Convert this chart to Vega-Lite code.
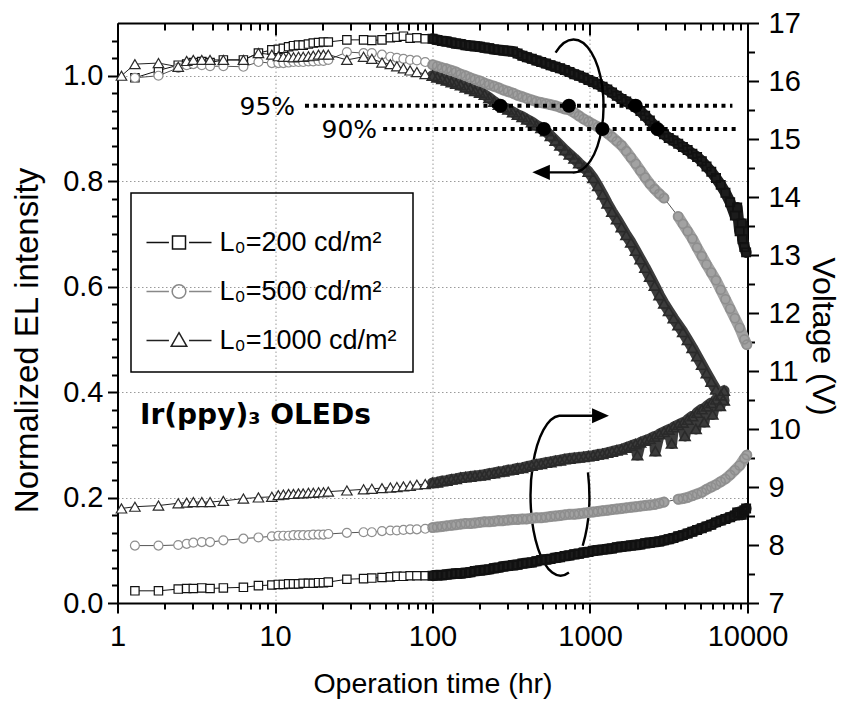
{
  "$schema": "https://vega.github.io/schema/vega-lite/v6.json",
  "width": 630,
  "height": 580,
  "autosize": "none",
  "padding": {"left": 117.5, "top": 23, "right": 96.5, "bottom": 108.5},
  "background": "white",
  "config": {
    "font": "Liberation Sans",
    "view": {"stroke": null},
    "axis": {"domainColor": "black", "domainWidth": 2, "tickColor": "black", "tickWidth": 2, "labelFont": "Liberation Sans", "labelFontSize": 29, "labelColor": "black", "titleFont": "Liberation Sans", "titleFontWeight": "normal", "titleColor": "black", "gridColor": "#9a9a9a", "gridDash": [1.5, 2.5], "gridWidth": 1},
    "legend": {"strokeWidth": 1.5}
  },
  "datasets": {
    "d": [
      {"s":200,"t":1.29,"i":0.996,"u":7.21},{"s":200,"t":1.82,"i":1.01,"u":7.21},{"s":200,"t":2.43,"i":1.02,"u":7.24},{"s":200,"t":2.75,"i":1.022,"u":7.25},{"s":200,"t":3.03,"i":1.025,"u":7.25},{"s":200,"t":3.43,"i":1.027,"u":7.26},{"s":200,"t":3.87,"i":1.025,"u":7.25},{"s":200,"t":4.7,"i":1.03,"u":7.26},{"s":200,"t":6.3,"i":1.03,"u":7.27},{"s":200,"t":7.85,"i":1.043,"u":7.3},{"s":200,"t":9.55,"i":1.049,"u":7.31},{"s":200,"t":10.5,"i":1.05,"u":7.32},{"s":200,"t":11.3,"i":1.052,"u":7.32},{"s":200,"t":12.2,"i":1.055,"u":7.33},{"s":200,"t":13.1,"i":1.057,"u":7.33},{"s":200,"t":14.1,"i":1.058,"u":7.33},{"s":200,"t":15.1,"i":1.058,"u":7.34},{"s":200,"t":16.3,"i":1.06,"u":7.34},{"s":200,"t":17.5,"i":1.062,"u":7.34},{"s":200,"t":18.9,"i":1.063,"u":7.35},{"s":200,"t":20.3,"i":1.064,"u":7.35},{"s":200,"t":21.8,"i":1.064,"u":7.36},{"s":200,"t":28.6,"i":1.068,"u":7.41},{"s":200,"t":36.5,"i":1.068,"u":7.42},{"s":200,"t":41.2,"i":1.067,"u":7.43},{"s":200,"t":47.8,"i":1.068,"u":7.44},{"s":200,"t":54,"i":1.072,"u":7.45},{"s":200,"t":59.4,"i":1.073,"u":7.46},{"s":200,"t":65.4,"i":1.075,"u":7.46},{"s":200,"t":72.1,"i":1.071,"u":7.47},{"s":200,"t":79.6,"i":1.072,"u":7.47},{"s":200,"t":89.9,"i":1.07,"u":7.47},
      {"s":200,"t":100,"i":1.07,"u":7.47},{"s":200,"t":107,"i":1.068,"u":7.48},{"s":200,"t":115,"i":1.066,"u":7.48},{"s":200,"t":123,"i":1.065,"u":7.49},{"s":200,"t":132,"i":1.063,"u":7.5},{"s":200,"t":141,"i":1.061,"u":7.51},{"s":200,"t":151,"i":1.06,"u":7.51},{"s":200,"t":162,"i":1.058,"u":7.52},{"s":200,"t":174,"i":1.057,"u":7.53},{"s":200,"t":186,"i":1.056,"u":7.55},{"s":200,"t":200,"i":1.055,"u":7.56},{"s":200,"t":214,"i":1.053,"u":7.57},{"s":200,"t":229,"i":1.052,"u":7.58},{"s":200,"t":246,"i":1.05,"u":7.6},{"s":200,"t":263,"i":1.049,"u":7.61},{"s":200,"t":282,"i":1.048,"u":7.63},{"s":200,"t":302,"i":1.047,"u":7.64},{"s":200,"t":324,"i":1.046,"u":7.65},{"s":200,"t":347,"i":1.042,"u":7.66},{"s":200,"t":372,"i":1.038,"u":7.68},{"s":200,"t":398,"i":1.035,"u":7.69},{"s":200,"t":427,"i":1.032,"u":7.7},{"s":200,"t":457,"i":1.029,"u":7.72},{"s":200,"t":490,"i":1.026,"u":7.74},{"s":200,"t":525,"i":1.023,"u":7.75},{"s":200,"t":562,"i":1.02,"u":7.76},{"s":200,"t":603,"i":1.017,"u":7.78},{"s":200,"t":646,"i":1.014,"u":7.79},{"s":200,"t":692,"i":1.011,"u":7.81},{"s":200,"t":741,"i":1.007,"u":7.82},{"s":200,"t":794,"i":1.003,"u":7.84},{"s":200,"t":851,"i":1.0,"u":7.85},{"s":200,"t":912,"i":0.996,"u":7.87},{"s":200,"t":977,"i":0.992,"u":7.88},{"s":200,"t":1047,"i":0.988,"u":7.9},{"s":200,"t":1122,"i":0.984,"u":7.91},{"s":200,"t":1202,"i":0.979,"u":7.92},{"s":200,"t":1288,"i":0.974,"u":7.93},{"s":200,"t":1380,"i":0.968,"u":7.94},{"s":200,"t":1479,"i":0.962,"u":7.96},{"s":200,"t":1585,"i":0.956,"u":7.97},{"s":200,"t":1698,"i":0.951,"u":7.98},{"s":200,"t":1820,"i":0.946,"u":7.99},{"s":200,"t":1950,"i":0.941,"u":8.0},{"s":200,"t":2089,"i":0.933,"u":8.01},{"s":200,"t":2239,"i":0.924,"u":8.03},{"s":200,"t":2399,"i":0.915,"u":8.04},{"s":200,"t":2570,"i":0.905,"u":8.05},{"s":200,"t":2754,"i":0.896,"u":8.06},{"s":200,"t":2951,"i":0.889,"u":8.08},{"s":200,"t":3162,"i":0.882,"u":8.1},{"s":200,"t":3388,"i":0.877,"u":8.12},{"s":200,"t":3631,"i":0.871,"u":8.15},{"s":200,"t":3890,"i":0.865,"u":8.17},{"s":200,"t":4169,"i":0.859,"u":8.2},{"s":200,"t":4467,"i":0.852,"u":8.23},{"s":200,"t":4786,"i":0.846,"u":8.26},{"s":200,"t":5129,"i":0.838,"u":8.29},{"s":200,"t":5495,"i":0.828,"u":8.32},{"s":200,"t":5888,"i":0.818,"u":8.35},{"s":200,"t":6310,"i":0.806,"u":8.39},{"s":200,"t":6761,"i":0.793,"u":8.42},{"s":200,"t":7244,"i":0.778,"u":8.45},{"s":200,"t":7762,"i":0.76,"u":8.48},{"s":200,"t":8318,"i":0.735,"u":8.51},{"s":200,"t":8913,"i":0.705,"u":8.55},{"s":200,"t":9550,"i":0.675,"u":8.6},
      {"s":200,"t":8600,"i":0.75,"u":8.56},{"s":200,"t":9200,"i":0.72,"u":8.52},{"s":200,"t":9300,"i":0.69,"u":8.58},{"s":200,"t":9800,"i":0.665,"u":8.63},
      {"s":500,"t":1.29,"i":0.996,"u":7.99},{"s":500,"t":1.82,"i":1.0,"u":7.99},{"s":500,"t":2.43,"i":1.015,"u":8.0},{"s":500,"t":2.75,"i":1.02,"u":8.02},{"s":500,"t":3.03,"i":1.022,"u":8.04},{"s":500,"t":3.43,"i":1.02,"u":8.05},{"s":500,"t":3.87,"i":1.018,"u":8.05},{"s":500,"t":4.7,"i":1.018,"u":8.08},{"s":500,"t":6.3,"i":1.017,"u":8.11},{"s":500,"t":7.85,"i":1.026,"u":8.13},{"s":500,"t":9.55,"i":1.024,"u":8.15},{"s":500,"t":10.5,"i":1.024,"u":8.16},{"s":500,"t":11.3,"i":1.024,"u":8.16},{"s":500,"t":12.2,"i":1.025,"u":8.16},{"s":500,"t":13.1,"i":1.026,"u":8.17},{"s":500,"t":14.1,"i":1.026,"u":8.17},{"s":500,"t":15.1,"i":1.026,"u":8.17},{"s":500,"t":16.3,"i":1.027,"u":8.17},{"s":500,"t":17.5,"i":1.027,"u":8.18},{"s":500,"t":18.9,"i":1.028,"u":8.18},{"s":500,"t":20.3,"i":1.028,"u":8.18},{"s":500,"t":21.8,"i":1.03,"u":8.19},{"s":500,"t":28.6,"i":1.045,"u":8.21},{"s":500,"t":36.5,"i":1.043,"u":8.22},{"s":500,"t":41.2,"i":1.043,"u":8.22},{"s":500,"t":47.8,"i":1.04,"u":8.24},{"s":500,"t":54,"i":1.036,"u":8.25},{"s":500,"t":59.4,"i":1.034,"u":8.25},{"s":500,"t":65.4,"i":1.032,"u":8.26},{"s":500,"t":72.1,"i":1.03,"u":8.27},{"s":500,"t":79.6,"i":1.029,"u":8.27},{"s":500,"t":89.9,"i":1.026,"u":8.28},
      {"s":500,"t":100,"i":1.021,"u":8.3},{"s":500,"t":107,"i":1.018,"u":8.31},{"s":500,"t":115,"i":1.015,"u":8.32},{"s":500,"t":123,"i":1.013,"u":8.33},{"s":500,"t":132,"i":1.01,"u":8.34},{"s":500,"t":141,"i":1.007,"u":8.35},{"s":500,"t":151,"i":1.003,"u":8.36},{"s":500,"t":162,"i":1.0,"u":8.37},{"s":500,"t":174,"i":0.996,"u":8.37},{"s":500,"t":186,"i":0.993,"u":8.38},{"s":500,"t":200,"i":0.99,"u":8.39},{"s":500,"t":214,"i":0.986,"u":8.4},{"s":500,"t":229,"i":0.983,"u":8.4},{"s":500,"t":246,"i":0.98,"u":8.41},{"s":500,"t":263,"i":0.977,"u":8.42},{"s":500,"t":282,"i":0.973,"u":8.42},{"s":500,"t":302,"i":0.97,"u":8.43},{"s":500,"t":324,"i":0.967,"u":8.44},{"s":500,"t":347,"i":0.963,"u":8.44},{"s":500,"t":372,"i":0.96,"u":8.45},{"s":500,"t":398,"i":0.957,"u":8.45},{"s":500,"t":427,"i":0.954,"u":8.46},{"s":500,"t":457,"i":0.951,"u":8.47},{"s":500,"t":490,"i":0.949,"u":8.47},{"s":500,"t":525,"i":0.947,"u":8.48},{"s":500,"t":562,"i":0.945,"u":8.49},{"s":500,"t":603,"i":0.943,"u":8.5},{"s":500,"t":646,"i":0.94,"u":8.51},{"s":500,"t":692,"i":0.937,"u":8.52},{"s":500,"t":741,"i":0.935,"u":8.53},{"s":500,"t":794,"i":0.93,"u":8.53},{"s":500,"t":851,"i":0.924,"u":8.54},{"s":500,"t":912,"i":0.918,"u":8.55},{"s":500,"t":977,"i":0.913,"u":8.56},{"s":500,"t":1047,"i":0.908,"u":8.57},{"s":500,"t":1122,"i":0.903,"u":8.58},{"s":500,"t":1202,"i":0.898,"u":8.59},{"s":500,"t":1288,"i":0.891,"u":8.6},{"s":500,"t":1380,"i":0.884,"u":8.61},{"s":500,"t":1479,"i":0.876,"u":8.62},{"s":500,"t":1585,"i":0.868,"u":8.63},{"s":500,"t":1698,"i":0.857,"u":8.64},{"s":500,"t":1820,"i":0.845,"u":8.65},{"s":500,"t":1950,"i":0.833,"u":8.66},{"s":500,"t":2089,"i":0.82,"u":8.67},{"s":500,"t":2239,"i":0.807,"u":8.68},{"s":500,"t":2399,"i":0.795,"u":8.69},{"s":500,"t":2570,"i":0.785,"u":8.7},{"s":500,"t":2754,"i":0.776,"u":8.72},{"s":500,"t":2951,"i":0.768,"u":8.74},{"s":500,"t":3300,"i":null,"u":null},{"s":500,"t":3631,"i":0.733,"u":8.79},{"s":500,"t":3890,"i":0.719,"u":8.8},{"s":500,"t":4169,"i":0.705,"u":8.82},{"s":500,"t":4467,"i":0.691,"u":8.85},{"s":500,"t":4786,"i":0.674,"u":8.88},{"s":500,"t":5129,"i":0.658,"u":8.91},{"s":500,"t":5495,"i":0.642,"u":8.96},{"s":500,"t":5888,"i":0.627,"u":9.0},{"s":500,"t":6310,"i":0.612,"u":9.04},{"s":500,"t":6761,"i":0.594,"u":9.09},{"s":500,"t":7244,"i":0.576,"u":9.14},{"s":500,"t":7762,"i":0.558,"u":9.21},{"s":500,"t":8318,"i":0.54,"u":9.29},{"s":500,"t":8913,"i":0.522,"u":9.37},{"s":500,"t":9550,"i":0.5,"u":9.49},{"s":500,"t":9900,"i":0.49,"u":9.55},
      {"s":1000,"t":1.06,"i":1.0,"u":8.63},{"s":1000,"t":1.29,"i":1.022,"u":8.66},{"s":1000,"t":1.82,"i":1.024,"u":8.68},{"s":1000,"t":2.43,"i":1.017,"u":8.72},{"s":1000,"t":2.75,"i":1.028,"u":8.73},{"s":1000,"t":3.03,"i":1.03,"u":8.74},{"s":1000,"t":3.43,"i":1.03,"u":8.74},{"s":1000,"t":3.87,"i":1.03,"u":8.74},{"s":1000,"t":4.7,"i":1.03,"u":8.76},{"s":1000,"t":6.3,"i":1.03,"u":8.8},{"s":1000,"t":7.85,"i":1.043,"u":8.82},{"s":1000,"t":9.55,"i":1.04,"u":8.83},{"s":1000,"t":10.5,"i":1.037,"u":8.86},{"s":1000,"t":11.3,"i":1.036,"u":8.87},{"s":1000,"t":12.2,"i":1.036,"u":8.88},{"s":1000,"t":13.1,"i":1.035,"u":8.88},{"s":1000,"t":14.1,"i":1.036,"u":8.89},{"s":1000,"t":15.1,"i":1.036,"u":8.89},{"s":1000,"t":16.3,"i":1.037,"u":8.9},{"s":1000,"t":17.5,"i":1.038,"u":8.9},{"s":1000,"t":18.9,"i":1.04,"u":8.91},{"s":1000,"t":20.3,"i":1.04,"u":8.91},{"s":1000,"t":21.8,"i":1.04,"u":8.92},{"s":1000,"t":28.6,"i":1.03,"u":8.94},{"s":1000,"t":36.5,"i":1.036,"u":8.96},{"s":1000,"t":41.2,"i":1.032,"u":8.97},{"s":1000,"t":47.8,"i":1.025,"u":8.98},{"s":1000,"t":54,"i":1.022,"u":8.99},{"s":1000,"t":59.4,"i":1.018,"u":9.0},{"s":1000,"t":65.4,"i":1.014,"u":9.01},{"s":1000,"t":72.1,"i":1.01,"u":9.02},{"s":1000,"t":79.6,"i":1.007,"u":9.04},{"s":1000,"t":89.9,"i":1.003,"u":9.05},
      {"s":1000,"t":100,"i":1.0,"u":9.07},{"s":1000,"t":107,"i":0.997,"u":9.08},{"s":1000,"t":115,"i":0.994,"u":9.1},{"s":1000,"t":123,"i":0.991,"u":9.11},{"s":1000,"t":132,"i":0.988,"u":9.13},{"s":1000,"t":141,"i":0.985,"u":9.14},{"s":1000,"t":151,"i":0.982,"u":9.16},{"s":1000,"t":162,"i":0.978,"u":9.17},{"s":1000,"t":174,"i":0.975,"u":9.18},{"s":1000,"t":186,"i":0.971,"u":9.19},{"s":1000,"t":200,"i":0.968,"u":9.2},{"s":1000,"t":214,"i":0.964,"u":9.21},{"s":1000,"t":229,"i":0.958,"u":9.23},{"s":1000,"t":246,"i":0.951,"u":9.24},{"s":1000,"t":263,"i":0.945,"u":9.26},{"s":1000,"t":282,"i":0.94,"u":9.27},{"s":1000,"t":302,"i":0.936,"u":9.29},{"s":1000,"t":324,"i":0.931,"u":9.3},{"s":1000,"t":347,"i":0.926,"u":9.32},{"s":1000,"t":372,"i":0.922,"u":9.33},{"s":1000,"t":398,"i":0.917,"u":9.35},{"s":1000,"t":427,"i":0.912,"u":9.37},{"s":1000,"t":457,"i":0.906,"u":9.39},{"s":1000,"t":490,"i":0.901,"u":9.4},{"s":1000,"t":525,"i":0.895,"u":9.42},{"s":1000,"t":562,"i":0.886,"u":9.43},{"s":1000,"t":603,"i":0.877,"u":9.45},{"s":1000,"t":646,"i":0.868,"u":9.46},{"s":1000,"t":692,"i":0.859,"u":9.48},{"s":1000,"t":741,"i":0.851,"u":9.49},{"s":1000,"t":794,"i":0.843,"u":9.5},{"s":1000,"t":851,"i":0.834,"u":9.51},{"s":1000,"t":912,"i":0.826,"u":9.52},{"s":1000,"t":977,"i":0.818,"u":9.53},{"s":1000,"t":1047,"i":0.806,"u":9.54},{"s":1000,"t":1122,"i":0.791,"u":9.56},{"s":1000,"t":1202,"i":0.775,"u":9.57},{"s":1000,"t":1288,"i":0.758,"u":9.59},{"s":1000,"t":1380,"i":0.742,"u":9.61},{"s":1000,"t":1479,"i":0.728,"u":9.63},{"s":1000,"t":1585,"i":0.713,"u":9.65},{"s":1000,"t":1698,"i":0.698,"u":9.68},{"s":1000,"t":1820,"i":0.684,"u":9.71},{"s":1000,"t":1950,"i":0.668,"u":9.74},{"s":1000,"t":2089,"i":0.652,"u":9.77},{"s":1000,"t":2239,"i":0.636,"u":9.8},{"s":1000,"t":2399,"i":0.619,"u":9.83},{"s":1000,"t":2570,"i":0.602,"u":9.87},{"s":1000,"t":2754,"i":0.584,"u":9.91},{"s":1000,"t":2951,"i":0.568,"u":9.95},{"s":1000,"t":3162,"i":0.554,"u":9.99},{"s":1000,"t":3388,"i":0.54,"u":10.03},{"s":1000,"t":3631,"i":0.527,"u":10.07},{"s":1000,"t":3890,"i":0.514,"u":10.11},{"s":1000,"t":4169,"i":0.499,"u":10.16},{"s":1000,"t":4467,"i":0.484,"u":10.22},{"s":1000,"t":4786,"i":0.468,"u":10.28},{"s":1000,"t":5129,"i":0.452,"u":10.34},{"s":1000,"t":5495,"i":0.436,"u":10.39},{"s":1000,"t":5888,"i":0.42,"u":10.45},{"s":1000,"t":6310,"i":0.405,"u":10.51},{"s":1000,"t":6761,"i":0.391,"u":10.58},{"s":1000,"t":7100,"i":0.384,"u":10.66},
      {"s":1000,"t":2000,"u":9.55},{"s":1000,"t":2600,"u":9.62},{"s":1000,"t":3300,"u":9.75},{"s":1000,"t":4000,"u":9.88},{"s":1000,"t":4700,"u":10.0},{"s":1000,"t":5300,"u":10.12},{"s":1000,"t":6000,"u":10.25},{"s":1000,"t":6700,"u":10.4},{"s":1000,"t":7000,"u":10.5}
    ]
  },
  "layer": [
    {
      "data": {"name": "d"},
      "encoding": {
        "x": {
          "field": "t", "type": "quantitative",
          "scale": {"type": "log", "domain": [1, 10000], "nice": false},
          "axis": {
            "orient": "bottom",
            "values": [1,2,3,4,5,6,7,8,9,10,20,30,40,50,60,70,80,90,100,200,300,400,500,600,700,800,900,1000,2000,3000,4000,5000,6000,7000,8000,9000,10000],
            "labelExpr": "indexof([1,10,100,1000,10000], datum.value) >= 0 ? format(datum.value, 'd') : ''",
            "tickSize": {"condition": {"test": "indexof([1,10,100,1000,10000], datum.value) >= 0", "value": 10}, "value": 6},
            "grid": true,
            "gridOpacity": {"condition": {"test": "indexof([10,100,1000], datum.value) >= 0", "value": 1}, "value": 0},
            "labelPadding": 9,
            "labelOverlap": false,
            "labelFlush": false,
            "title": "Operation time (hr)",
            "titleFontSize": 28.5,
            "titleY": 66,
            "titleBaseline": "top"
          }
        },
        "y": {
          "field": "i", "type": "quantitative",
          "scale": {"domain": [0, 1.1], "nice": false, "zero": false},
          "axis": {
            "orient": "left",
            "values": [0,0.0333,0.0667,0.1,0.1333,0.1667,0.2,0.2333,0.2667,0.3,0.3333,0.3667,0.4,0.4333,0.4667,0.5,0.5333,0.5667,0.6,0.6333,0.6667,0.7,0.7333,0.7667,0.8,0.8333,0.8667,0.9,0.9333,0.9667,1,1.0333,1.0667],
            "labelExpr": "abs(datum.value*5 - round(datum.value*5)) < 0.001 ? format(datum.value, '.1f') : ''",
            "tickSize": {"condition": {"test": "abs(datum.value*5 - round(datum.value*5)) < 0.001", "value": 10}, "value": 6},
            "grid": true,
            "gridOpacity": {"condition": {"test": "abs(datum.value*5 - round(datum.value*5)) < 0.001 && datum.value > 0.01", "value": 1}, "value": 0},
            "labelPadding": 4.5,
            "labelOverlap": false,
            "labelFlush": false,
            "title": "Normalized EL intensity",
            "titleFontSize": 33,
            "titleAngle": 270,
            "titleX": -90.5,
            "titleY": 317,
            "titleAlign": "center",
            "titleBaseline": "middle"
          }
        }
      },
      "layer": [
        {
          "transform": [{"filter": "datum.i != null"}],
          "mark": {"type": "line", "strokeWidth": 1},
          "encoding": {
            "detail": {"field": "s", "type": "nominal"},
            "stroke": {"condition": [{"test": "datum.s == 200", "value": "#111111"}, {"test": "datum.s == 500", "value": "#555555"}], "value": "#222222"}
          }
        },
        {
          "transform": [{"filter": "datum.t >= 95 && (datum.i != null || datum.s == 500)"}],
          "mark": {"type": "line", "strokeWidth": 11, "strokeJoin": "round", "strokeCap": "round", "invalid": "break-paths-show-domains"},
          "encoding": {
            "detail": {"field": "s", "type": "nominal"},
            "stroke": {"condition": [{"test": "datum.s == 200", "value": "#1c1c1c"}, {"test": "datum.s == 500", "value": "#a2a2a2"}], "value": "#3c3c3c"}
          }
        },
        {
          "transform": [{"filter": "datum.i != null"}],
          "mark": {"type": "point", "opacity": 1, "filled": false},
          "encoding": {
            "shape": {"condition": [{"test": "datum.s == 200", "value": "square"}, {"test": "datum.s == 500", "value": "circle"}], "value": "triangle-up"},
            "size": {"condition": [{"test": "datum.s == 200", "value": 70}, {"test": "datum.s == 500", "value": 80}], "value": 110},
            "stroke": {"condition": [{"test": "datum.s == 200", "value": "#111111"}, {"test": "datum.s == 500", "value": "#8e8e8e"}], "value": "#2a2a2a"},
            "strokeWidth": {"condition": {"test": "datum.t >= 95", "value": 1.6}, "value": 1.2},
            "fill": {"condition": {"test": "datum.t < 95", "value": "white"}, "value": "transparent"}
          }
        },
        {
          "data": {"values": [{"t": 15.5, "t2": 8020, "i": 0.943}, {"t": 48.6, "t2": 8500, "i": 0.899}]},
          "mark": {"type": "rule", "color": "black", "strokeWidth": 4, "strokeDash": [4, 4.5]},
          "encoding": {"x2": {"field": "t2"}}
        },
        {
          "data": {"values": [{"t": 270, "i": 0.943}, {"t": 735, "i": 0.943}, {"t": 1950, "i": 0.943}, {"t": 510, "i": 0.899}, {"t": 1200, "i": 0.899}, {"t": 2680, "i": 0.899}]},
          "mark": {"type": "point", "shape": "circle", "filled": true, "color": "black", "opacity": 1, "size": 196}
        },
        {
          "data": {"values": [{"t": 13.42, "i": 0.941, "label": "95%"}, {"t": 44.5, "i": 0.897, "label": "90%"}]},
          "mark": {"type": "text", "align": "right", "baseline": "middle", "font": "DejaVu Sans", "fontSize": 25, "color": "black"},
          "encoding": {"text": {"field": "label"}}
        },
        {
          "data": {"values": [{"t": 1.39, "i": 0.34, "label": "Ir(ppy)₃ OLEDs"}]},
          "mark": {"type": "text", "align": "left", "baseline": "alphabetic", "font": "DejaVu Sans", "fontWeight": "bold", "fontSize": 28, "color": "black"},
          "encoding": {"text": {"field": "label"}}
        },
        {
          "data": {"values": [{"t": 772, "i": 0.9428, "k": "a"}, {"t": 638, "i": 0.2034, "k": "b"}]},
          "mark": {"type": "point", "filled": false, "opacity": 1, "stroke": "black", "strokeWidth": 2.4, "size": 25600},
          "encoding": {
            "shape": {"condition": {"test": "datum.k == 'a'", "value": "M-0.209,-0.665A0.375,0.831 0 1 1 0,0.831L-0.29,0.831"}, "value": "M0.121,0.959A0.375,1 0 1 1 0,-1L0.42,-1M0.3588,-0.291A0.375,1 0 0 1 0.293,0.625"}
          }
        },
        {
          "data": {"values": [{"t": 772, "i": 0.9428, "k": "a"}, {"t": 638, "i": 0.2034, "k": "b"}]},
          "mark": {"type": "point", "filled": true, "opacity": 1, "fill": "black", "strokeWidth": 0, "size": 25600},
          "encoding": {
            "shape": {"condition": {"test": "datum.k == 'a'", "value": "M-0.5,0.831L-0.28,0.737L-0.28,0.925Z"}, "value": "M0.621,-1L0.41,-1.094L0.41,-0.906Z"}
          }
        },
        {
          "data": {"values": [{"lab": "L₀=200 cd/m²"}, {"lab": "L₀=500 cd/m²"}, {"lab": "L₀=1000 cd/m²"}]},
          "mark": {"type": "point", "filled": false, "opacity": 0},
          "encoding": {
            "x": {"value": 10},
            "y": {"value": 10},
            "shape": {
              "field": "lab", "type": "nominal",
              "scale": {"domain": ["L₀=200 cd/m²", "L₀=500 cd/m²", "L₀=1000 cd/m²"], "range": ["M0,-0.36M0,0.36M-1,0H-0.31M0.31,0H1M-0.2,-0.2H0.2V0.2H-0.2Z", "M0,-0.36M0,0.36M-1,0H-0.31M0.31,0H1M0.21,0A0.21,0.21 0 1 1 -0.21,0A0.21,0.21 0 1 1 0.21,0", "M0,-0.36M0,0.36M-1,0H-0.31M0.31,0H1M0,-0.24L0.24,0.18H-0.24Z"]},
              "legend": {"orient": "none", "legendX": 13.5, "legendY": 170, "title": null, "padding": 16, "symbolSize": 4225, "symbolStrokeWidth": 1.5, "symbolOpacity": 1, "symbolOffset": -1.5, "labelOffset": 7, "labelFont": "Liberation Sans", "labelFontSize": 27, "labelColor": "black", "labelLimit": 0, "rowPadding": 0, "strokeColor": "black"}
            },
            "stroke": {
              "field": "lab", "type": "nominal",
              "scale": {"domain": ["L₀=200 cd/m²", "L₀=500 cd/m²", "L₀=1000 cd/m²"], "range": ["#111111", "#888888", "#222222"]},
              "legend": {"orient": "none", "legendX": 13.5, "legendY": 170, "title": null, "padding": 16, "symbolSize": 4225, "symbolStrokeWidth": 1.5, "symbolOpacity": 1, "symbolOffset": -1.5, "labelOffset": 7, "labelFont": "Liberation Sans", "labelFontSize": 27, "labelColor": "black", "labelLimit": 0, "rowPadding": 0, "strokeColor": "black"}
            }
          }
        }
      ]
    },
    {
      "data": {"name": "d"},
      "encoding": {
        "x": {
          "field": "t", "type": "quantitative",
          "scale": {"type": "log", "domain": [1, 10000], "nice": false},
          "axis": {
            "orient": "top",
            "values": [1,2,3,4,5,6,7,8,9,10,20,30,40,50,60,70,80,90,100,200,300,400,500,600,700,800,900,1000,2000,3000,4000,5000,6000,7000,8000,9000,10000],
            "labels": false,
            "grid": false,
            "title": null,
            "tickSize": {"condition": {"test": "indexof([1,10,100,1000,10000], datum.value) >= 0", "value": -12}, "value": -7}
          }
        },
        "y": {
          "field": "u", "type": "quantitative",
          "scale": {"domain": [7, 17], "nice": false, "zero": false},
          "axis": {
            "orient": "right",
            "values": [7,7.5,8,8.5,9,9.5,10,10.5,11,11.5,12,12.5,13,13.5,14,14.5,15,15.5,16,16.5,17],
            "labelExpr": "datum.value % 1 == 0 ? format(datum.value, 'd') : ''",
            "tickSize": {"condition": {"test": "datum.value % 1 == 0", "value": 11}, "value": 7},
            "grid": false,
            "labelPadding": 9.5,
            "labelOverlap": false,
            "labelFlush": false,
            "title": "Voltage (V)",
            "titleFontSize": 32,
            "titleAngle": 90,
            "titleX": 75,
            "titleY": 313,
            "titleAlign": "center",
            "titleBaseline": "middle"
          }
        }
      },
      "layer": [
        {
          "transform": [{"filter": "datum.u != null"}],
          "mark": {"type": "line", "strokeWidth": 1},
          "encoding": {
            "detail": {"field": "s", "type": "nominal"},
            "stroke": {"condition": [{"test": "datum.s == 200", "value": "#111111"}, {"test": "datum.s == 500", "value": "#555555"}], "value": "#222222"}
          }
        },
        {
          "transform": [{"filter": "datum.t >= 95 && (datum.u != null || datum.s == 500)"}],
          "mark": {"type": "line", "strokeWidth": 11, "strokeJoin": "round", "strokeCap": "round", "invalid": "break-paths-show-domains"},
          "encoding": {
            "detail": {"field": "s", "type": "nominal"},
            "stroke": {"condition": [{"test": "datum.s == 200", "value": "#1c1c1c"}, {"test": "datum.s == 500", "value": "#a2a2a2"}], "value": "#3c3c3c"}
          }
        },
        {
          "transform": [{"filter": "datum.u != null"}],
          "mark": {"type": "point", "opacity": 1, "filled": false},
          "encoding": {
            "shape": {"condition": [{"test": "datum.s == 200", "value": "square"}, {"test": "datum.s == 500", "value": "circle"}], "value": "triangle-up"},
            "size": {"condition": [{"test": "datum.s == 200", "value": 70}, {"test": "datum.s == 500", "value": 80}], "value": 110},
            "stroke": {"condition": [{"test": "datum.s == 200", "value": "#111111"}, {"test": "datum.s == 500", "value": "#8e8e8e"}], "value": "#2a2a2a"},
            "strokeWidth": {"condition": {"test": "datum.t >= 95", "value": 1.6}, "value": 1.2},
            "fill": {"condition": {"test": "datum.t < 95", "value": "white"}, "value": "transparent"}
          }
        }
      ]
    }
  ],
  "resolve": {"scale": {"y": "independent"}, "axis": {"x": "independent"}}
}
